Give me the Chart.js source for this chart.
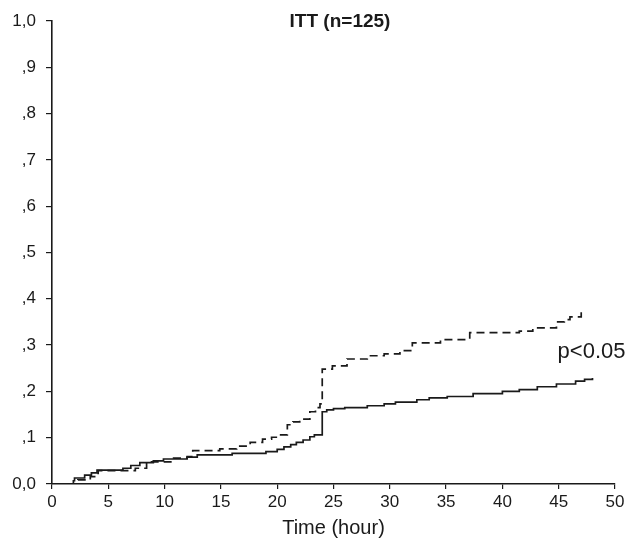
<!DOCTYPE html>
<html lang="en">
<head>
    <meta charset="UTF-8">
    <title>ITT (n=125)</title>
    <script src="https://cdn.jsdelivr.net/npm/chart.js"></script>
    <style>
        body {
            margin: 0;
            background: #fff;
        }
        #wrap {
            width: 630px;
            height: 542px;
        }
    </style>
</head>
<body>
    <div id="wrap"><canvas id="kmChart" width="630" height="542"></canvas></div>

    <script>
        // Solid curve (time in hours, cumulative proportion)
        const solidTimes = [1.4, 1.9, 2.0, 2.9, 3.5, 4.0, 6.3, 7.0, 7.8, 9.0, 9.9, 12.0, 12.9, 16.0, 19.0, 20.0, 20.6, 21.2, 21.7, 22.3, 22.9, 23.3, 24.0, 24.4, 25.0, 26.0, 28.0, 29.5, 30.5, 32.4, 33.5, 35.1, 37.4, 40.0, 41.5, 43.1, 44.8, 46.5, 47.3, 48.0];
        const solidValues = [0, 0.007, 0.013, 0.019, 0.024, 0.030, 0.034, 0.040, 0.046, 0.050, 0.054, 0.058, 0.063, 0.066, 0.070, 0.075, 0.080, 0.085, 0.090, 0.095, 0.102, 0.106, 0.156, 0.160, 0.163, 0.165, 0.169, 0.173, 0.177, 0.182, 0.186, 0.189, 0.195, 0.200, 0.204, 0.210, 0.216, 0.222, 0.226, 0.229];

        // Dashed curve
        const dashedTimes = [1.5, 2.3, 3.4, 4.1, 7.4, 8.4, 10.8, 12.0, 12.5, 14.9, 16.4, 17.6, 18.7, 19.5, 20.0, 20.9, 21.4, 22.0, 22.9, 23.4, 23.8, 24.0, 24.9, 26.2, 28.0, 29.5, 30.9, 32.0, 34.5, 37.1, 41.5, 42.7, 44.8, 45.5, 46.0, 47.0];
        const dashedValues = [0, 0.009, 0.016, 0.029, 0.034, 0.048, 0.056, 0.059, 0.072, 0.076, 0.082, 0.090, 0.097, 0.101, 0.106, 0.128, 0.134, 0.140, 0.156, 0.165, 0.173, 0.248, 0.255, 0.270, 0.277, 0.281, 0.288, 0.305, 0.312, 0.327, 0.330, 0.337, 0.350, 0.355, 0.361, 0.372];

        const xTicks = [0, 5, 10, 15, 20, 25, 30, 35, 40, 45, 50];
        const yTicks = [0, 0.1, 0.2, 0.3, 0.4, 0.5, 0.6, 0.7, 0.8, 0.9, 1.0];
        const yTickLabels = ['0,0', ',1', ',2', ',3', ',4', ',5', ',6', ',7', ',8', ',9', '1,0'];

        const titleText = 'ITT (n=125)';
        const pValueText = 'p<0.05';
        const pValuePos = { x: 44.9, y: 0.285 };

        const toPoints = (ts, vs) => ts.map((t, i) => ({ x: t, y: vs[i] }));

        // draws the title and the p-value label inside the plot
        const textPlugin = {
            id: 'textPlugin',
            afterDraw(chart) {
                const ctx = chart.ctx;
                const xs = chart.scales.x;
                const ys = chart.scales.y;
                ctx.save();
                ctx.fillStyle = '#1a1a1a';
                ctx.textAlign = 'center';
                ctx.textBaseline = 'middle';
                ctx.font = 'bold 19px "Liberation Sans", Arial, sans-serif';
                ctx.fillText(titleText, 340, 22);
                ctx.textAlign = 'left';
                ctx.font = '22px "Liberation Sans", Arial, sans-serif';
                ctx.fillText(pValueText, xs.getPixelForValue(pValuePos.x), ys.getPixelForValue(pValuePos.y));
                ctx.restore();
            }
        };

        const ctx = document.getElementById('kmChart').getContext('2d');
        new Chart(ctx, {
            type: 'line',
            data: {
                datasets: [{
                    label: 'solid',
                    data: toPoints(solidTimes, solidValues),
                    borderColor: '#1a1a1a',
                    borderWidth: 1.7,
                    stepped: true,
                    pointRadius: 0,
                    fill: false
                }, {
                    label: 'dashed',
                    data: toPoints(dashedTimes, dashedValues),
                    borderColor: '#1a1a1a',
                    borderWidth: 1.7,
                    borderDash: [8, 5],
                    stepped: true,
                    pointRadius: 0,
                    fill: false
                }]
            },
            options: {
                responsive: false,
                animation: false,
                layout: {
                    padding: { top: 21, right: 15, left: 0, bottom: 0 }
                },
                plugins: {
                    legend: { display: false },
                    tooltip: { enabled: false }
                },
                scales: {
                    x: {
                        type: 'linear',
                        min: 0,
                        max: 50,
                        afterBuildTicks: axis => { axis.ticks = xTicks.map(v => ({ value: v })); },
                        afterFit: axis => { axis.height = 58; },
                        grid: { drawOnChartArea: false, drawTicks: true, tickLength: 5, color: '#1a1a1a', lineWidth: 1.2 },
                        border: { color: '#1a1a1a', width: 1.6 },
                        ticks: {
                            color: '#1a1a1a',
                            padding: 3,
                            maxRotation: 0,
                            font: { family: '"Liberation Sans", Arial, sans-serif', size: 17 }
                        },
                        title: {
                            display: true,
                            text: 'Time (hour)',
                            color: '#1a1a1a',
                            padding: { top: 0, bottom: 2 },
                            font: { family: '"Liberation Sans", Arial, sans-serif', size: 20 }
                        }
                    },
                    y: {
                        min: 0,
                        max: 1,
                        afterBuildTicks: axis => { axis.ticks = yTicks.map(v => ({ value: v })); },
                        afterFit: axis => { axis.width = 52; },
                        grid: { drawOnChartArea: false, drawTicks: true, tickLength: 6, color: '#1a1a1a', lineWidth: 1.2 },
                        border: { color: '#1a1a1a', width: 1.6 },
                        ticks: {
                            color: '#1a1a1a',
                            padding: 10,
                            font: { family: '"Liberation Sans", Arial, sans-serif', size: 17 },
                            callback: (value, index) => yTickLabels[index]
                        }
                    }
                }
            },
            plugins: [textPlugin]
        });
    </script>
</body>
</html>
